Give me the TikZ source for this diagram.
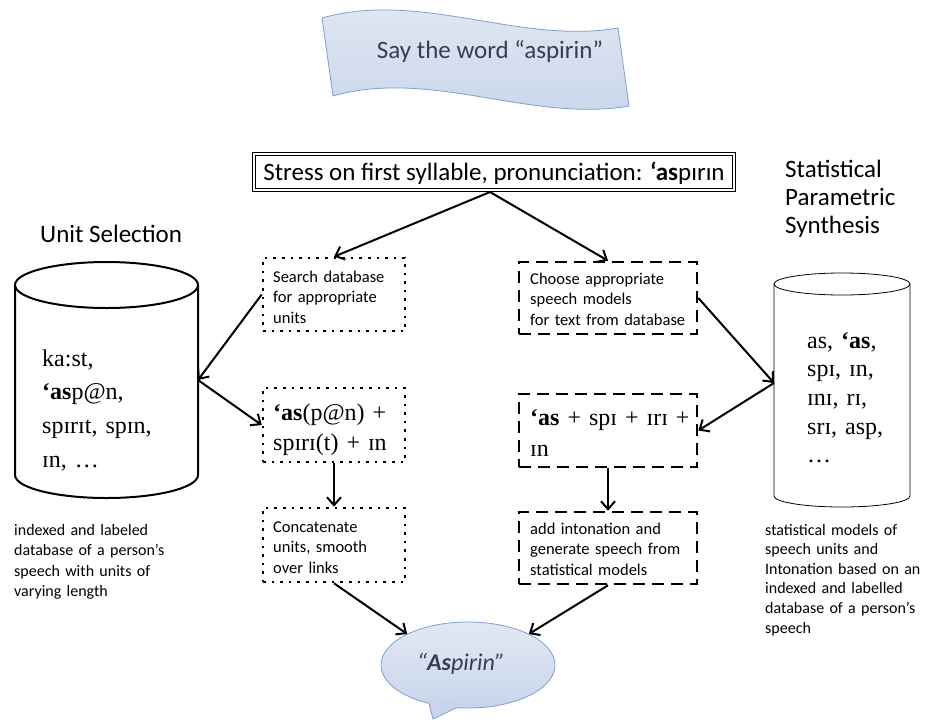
\documentclass[tikz,border=0pt]{standalone}
\usepackage{fontspec}
\setmainfont{Carlito}
\newfontfamily\tms{Liberation Serif}
\usetikzlibrary{arrows.meta,shapes.geometric}
\definecolor{bannerline}{HTML}{7F9FCF}
\definecolor{bluetop}{HTML}{E3E9F4}
\definecolor{bluebot}{HTML}{C8D5EA}
\definecolor{bluetext}{HTML}{353F4E}
\begin{document}
\begin{tikzpicture}[x=1pt,y=-1pt,
  arr/.style={line width=2pt,-{Straight Barb[length=8pt,width=14pt]}},
  dotbox/.style={draw,line width=2.6pt,dash pattern=on 2.6pt off 6pt,inner sep=0},
  dashbox/.style={draw,line width=2.6pt,dash pattern=on 12pt off 7pt,inner sep=0},
  big/.style={font=\fontsize{25}{30}\selectfont},
  boxtxt/.style={anchor=base west,inner sep=0,text width=175,align=left,font=\fontsize{16.5}{20.5}\selectfont},
  captxt/.style={anchor=base west,inner sep=0,text width=170,align=left},
  tmstxt/.style={anchor=base west,inner sep=0,text width=170,align=left}]
\useasboundingbox (0,0) rectangle (928,721);

% banner
\path[top color=bluetop,bottom color=bluebot,draw=bannerline,line width=0.8pt]
  (322,18) .. controls (420,-10) and (520,45) .. (618,28) -- (629,106)
  .. controls (531,123) and (431,68) .. (333,96) -- cycle;
\node[big,text=bluetext,anchor=base,inner sep=0] (say) at (490,58) {Say the word “aspirin”};

% stress box
\node[draw,double,double distance=2.2pt,line width=0.8pt,minimum width=480,minimum height=36,inner sep=0] (stress) at (494,172) {};
\node[big,anchor=base,inner sep=0] (stresstxt) at (494,180) {Stress on first syllable, pronunciation: {\bfseries ‘as}pɪrɪn};
\coordinate (apex) at (490,192);

% labels
\node[big,anchor=base west,inner sep=0] (unitsel) at (40,242) {Unit Selection};
\node[anchor=base west,inner sep=0,text width=140,align=left,font=\fontsize{25}{28}\selectfont] (spslabel) at (785,177) {Statistical\\Parametric\\Synthesis};

% left cylinder
\draw[line width=2pt] (15,285) -- (15,475) .. controls (15,487.7) and (56,498) .. (106.5,498)
  .. controls (157,498) and (198,487.7) .. (198,475) -- (198,285);
\draw[line width=2pt] (106.5,285) ellipse [x radius=91.5,y radius=23];
\node[tmstxt,font=\tms\fontsize{24}{33.7}\selectfont] (cylLtxt) at (42,366) {ka:st,\\{\bfseries ‘as}p@n,\\spɪrɪt, spɪn,\\ɪn, …};

% right cylinder
\draw[line width=0.8pt] (774,284) -- (774,496) .. controls (774,502.1) and (804.4,507) .. (842,507)
  .. controls (879.6,507) and (910,502.1) .. (910,496) -- (910,284);
\draw[line width=0.8pt] (842,284) ellipse [x radius=68,y radius=11];
\node[tmstxt,font=\tms\fontsize{24}{28.7}\selectfont] (cylRtxt) at (807,348) {as, {\bfseries ‘as},\\spɪ, ɪn,\\ɪnɪ, rɪ,\\srɪ, asp,\\…};

% captions
\node[captxt,font=\fontsize{16}{20.5}\selectfont] (capL) at (14,535) {indexed and labeled\\database of a person’s\\speech with units of\\varying length};
\node[captxt,font=\fontsize{16}{19.6}\selectfont] (capR) at (765,535) {statistical models of\\speech units and\\Intonation based on an\\indexed and labelled\\database of a person’s\\speech};

% left column boxes
\node[dotbox,minimum width=142,minimum height=73] (search) at (334,294.5) {};
\node[boxtxt] (searchtxt) at (273,282) {Search database\\for appropriate\\units};
\node[dotbox,minimum width=142,minimum height=74] (midL) at (334,425) {};
\node[tmstxt,font=\tms\fontsize{24}{30}\selectfont] (midLtxt) at (273,420) {{\bfseries ‘as}(p@n) +\\spɪrɪ(t) + ɪn};
\node[dotbox,minimum width=142,minimum height=74] (concat) at (334,545) {};
\node[boxtxt] (concattxt) at (273,532) {Concatenate\\units, smooth\\over links};

% right column boxes
\node[dashbox,minimum width=178,minimum height=72] (choose) at (608,298) {};
\node[boxtxt] (choosetxt) at (530,284) {Choose appropriate\\speech models\\for text from database};
\node[dashbox,minimum width=178,minimum height=73] (midR) at (608,430.5) {};
\node[tmstxt,font=\tms\fontsize{24}{31}\selectfont] (midRtxt) at (530,425) {{\bfseries ‘as} + spɪ + ɪrɪ +\\ɪn};
\node[dashbox,minimum width=178,minimum height=72] (addint) at (608,548) {};
\node[boxtxt] (addinttxt) at (530,534) {add intonation and\\generate speech from\\statistical models};

% callout
\path[top color=bluetop,bottom color=bluebot,draw=bannerline,line width=0.8pt] (468,665) ellipse [x radius=87,y radius=43];
\fill[bluebot] (429,703.5) -- (433,719) -- (457,707.5) -- (457,700) -- (429,698) -- cycle;
\draw[bannerline,line width=0.8pt] (429,703.5) -- (433,719) -- (457,707.5);
\node[ellipse,minimum width=174,minimum height=86,inner sep=0] (asp) at (468,665) {};
\node[inner sep=0,text=bluetext,font=\itshape\fontsize{24}{30}\selectfont] (asptxt) at (461,664) {“{\bfseries As}pirin”};

% connectors
\coordinate (cylL) at (198,380);
\coordinate (cylR) at (774,383);
\draw[arr] (apex) -- (search.north);
\draw[arr] (apex) -- (choose.north);
\draw[arr] (search.west) -- (cylL);
\draw[arr] (cylL) -- (midL.west);
\draw[arr] (choose.east) -- (cylR);
\draw[arr] (cylR) -- (midR.east);
\draw[arr] (midL.south) -- (concat.north);
\draw[arr] (midR.south) -- (addint.north);
\draw[arr] (concat.south) -- (asp.153);
\draw[arr] (addint.south) -- (asp.27);
\end{tikzpicture}
\end{document}
